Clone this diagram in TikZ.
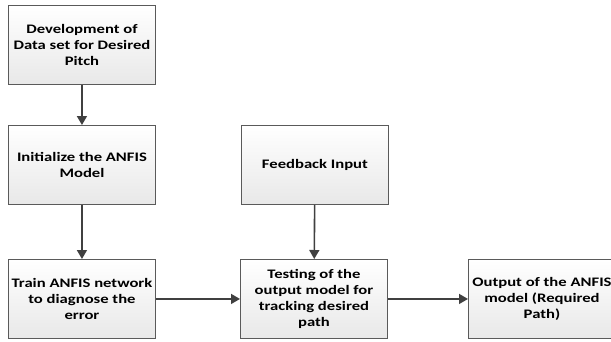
\documentclass[tikz,border=0pt]{standalone}
\usepackage{fontspec}
\setmainfont{Carlito}[FakeStretch=1.28]
\usetikzlibrary{arrows.meta}
\definecolor{boxline}{HTML}{5A5A5A}
\definecolor{boxbot}{HTML}{E8E8E8}
\definecolor{arrowc}{HTML}{404040}
\tikzset{
  stepbox/.style={draw=boxline, line width=0.9pt, top color=white, bottom color=boxbot,
    minimum width=147pt, minimum height=79pt, align=center, inner sep=2pt,
    font=\bfseries\fontsize{13}{16}\selectfont, anchor=north west},
  flow/.style={draw=arrowc, line width=1.6pt, -{Triangle[length=9pt,width=10pt]}}
}
\begin{document}
\begin{tikzpicture}[x=1pt,y=-1pt]
\useasboundingbox (0,0) rectangle (611,341);
\begin{scope}
\clip (0,0) rectangle (611,341);
\node[stepbox] (dev) at (8,5) {Development of\\Data set for Desired\\Pitch};
\node[stepbox] (init) at (8,125) {Initialize the ANFIS\\Model};
\node[stepbox] (train) at (8,259) {Train ANFIS network\\to diagnose the\\error};
\node[stepbox] (feed) at (241,125) {Feedback Input};
\node[stepbox] (test) at (240,259) {Testing of the\\output model for\\tracking desired\\path};
\node[stepbox] (out) at (468,259) {Output of the ANFIS\\model (Required\\Path)\hspace*{0pt}};
\end{scope}
\draw[flow] (dev) -- (init);
\draw[flow] (init) -- (train);
\draw[flow] (feed) -- (test);
\draw[flow] (train) -- (test);
\draw[flow] (test) -- (out);
\end{tikzpicture}
\end{document}
